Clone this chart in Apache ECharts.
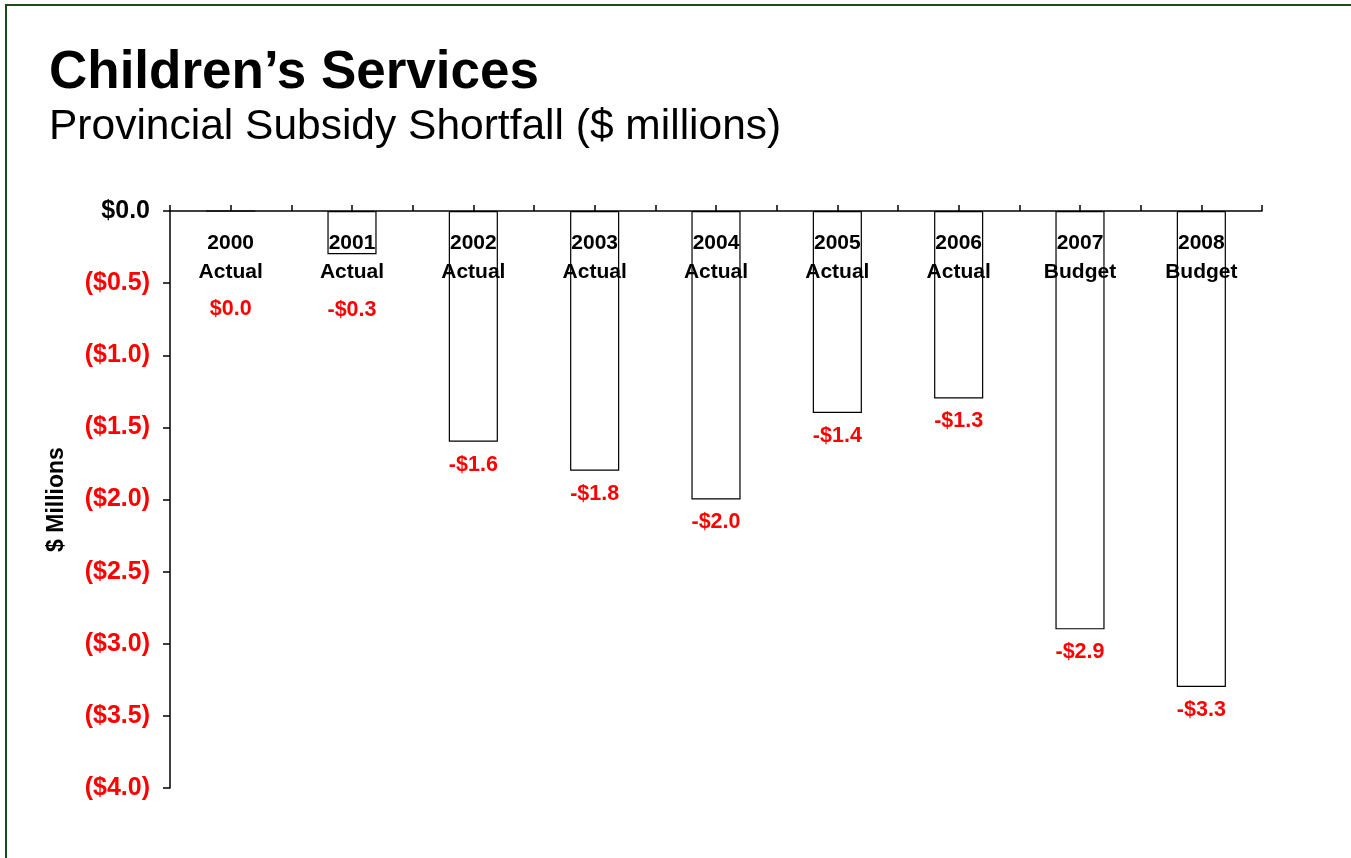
<!DOCTYPE html>
<html>
<head>
<meta charset="utf-8">
<script src="https://cdn.jsdelivr.net/npm/echarts@6/dist/echarts.min.js"></script>
<style>
    html, body {margin: 0; padding: 0; background: #fff;}
    #main {width: 1351px; height: 858px;}
</style>
</head>
<body>
<div id="main"></div>
<script>
var years = ['2000', '2001', '2002', '2003', '2004', '2005', '2006', '2007', '2008'];
var kinds = ['Actual', 'Actual', 'Actual', 'Actual', 'Actual', 'Actual', 'Actual', 'Budget', 'Budget'];
var shortfall = [0.0, -0.3, -1.6, -1.8, -2.0, -1.4, -1.3, -2.9, -3.3];

var categories = [];
for (var i = 0; i < years.length; i++) {
    categories.push(years[i] + '\n' + kinds[i]);
}

// the first two value labels sit under the category labels
var labelGap = {0: 86, 1: 45};

var barData = [];
for (var i = 0; i < shortfall.length; i++) {
    var item = {value: shortfall[i]};
    if (labelGap[i] !== undefined) {
        item.label = {distance: labelGap[i]};
    }
    barData.push(item);
}

function moneyLabel(v) {
    if (v === 0) return '$0.0';
    return '-$' + Math.abs(v).toFixed(1);
}

var myChart = echarts.init(document.getElementById('main'));
myChart.setOption({
    animation: false,
    title: [
        {
            text: 'Children\u2019s Services',
            left: 44,
            top: 42,
            textStyle: {fontFamily: 'Liberation Sans', fontWeight: 'bold', fontSize: 53, color: '#000'}
        },
        {
            text: 'Provincial Subsidy Shortfall ($ millions)',
            left: 44,
            top: 101,
            textStyle: {fontFamily: 'Liberation Sans', fontWeight: 'normal', fontSize: 42.5, color: '#000'}
        }
    ],
    graphic: [{
        type: 'rect',
        shape: {x: 6, y: 5, width: 1400, height: 900},
        style: {fill: 'none', stroke: '#1d4a1d', lineWidth: 2}
    }],
    grid: {left: 170, top: 211, right: 89, bottom: 70},
    xAxis: [
        {
            type: 'category',
            position: 'top',
            data: categories,
            axisLine: {onZero: false, lineStyle: {color: '#000', width: 1.5}},
            axisTick: {show: true, inside: false, length: 6, lineStyle: {color: '#000', width: 1.5}},
            axisLabel: {
                inside: true,
                margin: 18,
                interval: 0,
                fontFamily: 'Liberation Sans',
                fontWeight: 'bold',
                fontSize: 21,
                lineHeight: 29,
                color: '#000'
            },
            z: 5
        },
        {
            type: 'category',
            position: 'top',
            data: categories,
            axisLine: {show: false, onZero: false},
            axisTick: {show: true, inside: false, alignWithLabel: true, length: 6, lineStyle: {color: '#000', width: 1.5}},
            axisLabel: {show: false},
            z: 5
        }
    ],
    yAxis: {
        type: 'value',
        min: -4,
        max: 0,
        interval: 0.5,
        name: '$ Millions',
        nameLocation: 'middle',
        nameRotate: 90,
        nameGap: 102,
        nameTextStyle: {fontFamily: 'Liberation Sans', fontWeight: 'bold', fontSize: 23, color: '#000'},
        axisLine: {show: true, onZero: false, lineStyle: {color: '#000', width: 1.5}},
        axisTick: {show: true, length: 7, lineStyle: {color: '#000', width: 1.5}},
        splitLine: {show: false},
        axisLabel: {
            margin: 20,
            formatter: function (v) {
                if (v === 0) return '{b|$0.0}';
                return '{r|($' + Math.abs(v).toFixed(1) + ')}';
            },
            rich: {
                b: {fontFamily: 'Liberation Sans', fontWeight: 'bold', fontSize: 25, color: '#000'},
                r: {fontFamily: 'Liberation Sans', fontWeight: 'bold', fontSize: 25, color: '#ff0000'}
            }
        }
    },
    series: [{
        name: 'Shortfall',
        type: 'bar',
        xAxisIndex: 0,
        barWidth: '40.5%',
        data: barData,
        itemStyle: {color: 'rgba(255,255,255,0)', borderColor: '#000', borderWidth: 1.2},
        label: {
            show: true,
            position: 'bottom',
            distance: 12,
            formatter: function (p) {
                return moneyLabel(p.value);
            },
            fontFamily: 'Liberation Sans',
            fontWeight: 'bold',
            fontSize: 21.5,
            color: '#ff0000'
        }
    }]
});
</script>
</body>
</html>
